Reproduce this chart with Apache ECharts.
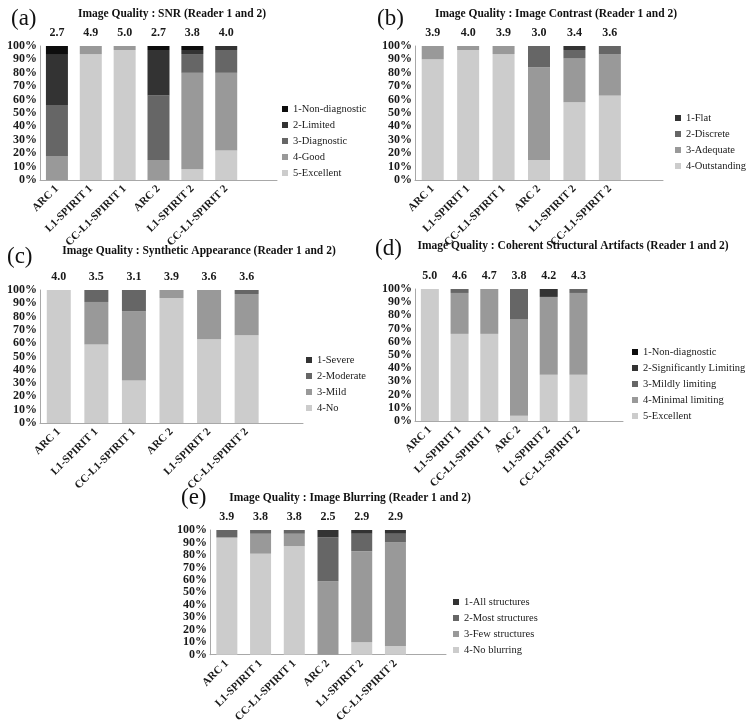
<!DOCTYPE html>
<html><head><meta charset="utf-8">
<script src="https://cdn.jsdelivr.net/npm/echarts@6/dist/echarts.min.js"></script>
<style>html,body{margin:0;padding:0;background:#fff}#c{width:750px;height:725px}</style>
</head><body><div id="c"></div>
<script>
// ---- data ----
const categories = ['ARC 1','L1-SPIRIT 1','CC-L1-SPIRIT 1','ARC 2','L1-SPIRIT 2','CC-L1-SPIRIT 2',''];

// (a) SNR
const snrNames = ['1-Non-diagnostic','2-Limited','3-Diagnostic','4-Good','5-Excellent'];
const snrMeans = ['2.7','4.9','5.0','2.7','3.8','4.0'];
const snr1 = [6,0,0,3,3,0];
const snr2 = [38,0,0,34,3,3];
const snr3 = [38,0,0,48,14,17];
const snr4 = [18,6,3,15,72,58];
const snr5 = [0,94,97,0,8,22];

// (b) Image Contrast
const conNames = ['1-Flat','2-Discrete','3-Adequate','4-Outstanding'];
const conMeans = ['3.9','4.0','3.9','3.0','3.4','3.6'];
const con1 = [0,0,0,0,3,0];
const con2 = [0,0,0,16,6,6];
const con3 = [10,3,6,69,33,31];
const con4 = [90,97,94,15,58,63];

// (c) Synthetic Appearance
const synNames = ['1-Severe','2-Moderate','3-Mild','4-No'];
const synMeans = ['4.0','3.5','3.1','3.9','3.6','3.6'];
const syn1 = [0,0,0,0,0,0];
const syn2 = [0,9,16,0,0,3];
const syn3 = [0,32,52,6,37,31];
const syn4 = [100,59,32,94,63,66];

// (d) Coherent Structural Artifacts
const artNames = ['1-Non-diagnostic','2-Significantly Limiting','3-Mildly limiting','4-Minimal limiting','5-Excellent'];
const artMeans = ['5.0','4.6','4.7','3.8','4.2','4.3'];
const art1 = [0,0,0,0,0,0];
const art2 = [0,0,0,0,6,0];
const art3 = [0,3,0,23,0,3];
const art4 = [0,31,34,73,59,62];
const art5 = [100,66,66,4,35,35];

// (e) Image Blurring
const blurNames = ['1-All structures','2-Most structures','3-Few structures','4-No blurring'];
const blurMeans = ['3.9','3.8','3.8','2.5','2.9','2.9'];
const blur1 = [0,0,0,6,3,3];
const blur2 = [6,3,3,35,14,7];
const blur3 = [0,16,10,59,73,83];
const blur4 = [94,81,87,0,10,7];

// ---- layout / styling ----
const FONT = '"Liberation Serif", "Times New Roman", serif';
const col5 = ['#0d0d0d','#333333','#666666','#999999','#cccccc'];
const col4 = ['#333333','#666666','#999999','#cccccc'];

const panels = [
  {letter:'(a)', title:'Image Quality : SNR (Reader 1 and 2)', names:snrNames, means:snrMeans,
   values:[snr1,snr2,snr3,snr4,snr5], colors:col5,
   grid:{left:40,top:46,width:237,height:134}, barWidth:22,
   titleX:172, titleY:13, letterX:11, letterY:7, legendX:282, legendY:102},
  {letter:'(b)', title:'Image Quality : Image Contrast (Reader 1 and 2)', names:conNames, means:conMeans,
   values:[con1,con2,con3,con4], colors:col4,
   grid:{left:415,top:46,width:248,height:134}, barWidth:22,
   titleX:556, titleY:13, letterX:377, letterY:7, legendX:675, legendY:111},
  {letter:'(c)', title:'Image Quality : Synthetic Appearance (Reader 1 and 2)', names:synNames, means:synMeans,
   values:[syn1,syn2,syn3,syn4], colors:col4,
   grid:{left:40,top:290,width:263,height:133}, barWidth:24,
   titleX:199, titleY:250, letterX:7, letterY:245, legendX:306, legendY:353},
  {letter:'(d)', title:'Image Quality : Coherent Structural Artifacts (Reader 1 and 2)', names:artNames, means:artMeans,
   values:[art1,art2,art3,art4,art5], colors:col5,
   grid:{left:415,top:289,width:208,height:132}, barWidth:18,
   titleX:573, titleY:245, letterX:375, letterY:237, legendX:632, legendY:345},
  {letter:'(e)', title:'Image Quality : Image Blurring (Reader 1 and 2)', names:blurNames, means:blurMeans,
   values:[blur1,blur2,blur3,blur4], colors:col4,
   grid:{left:210,top:530,width:236,height:133}, barWidth:21,
   titleX:350, titleY:497, letterX:181, letterY:486, legendX:453, legendY:595}
];

const option = {animation:false, backgroundColor:'#ffffff',
  title:[], grid:[], xAxis:[], yAxis:[], legend:[], series:[]};

panels.forEach((p, i) => {
  option.title.push({text:p.title, left:p.titleX, top:p.titleY - 5, textAlign:'center', padding:0,
    textStyle:{fontFamily:FONT, fontWeight:'bold', fontSize:11.5, color:'#111'}});
  option.title.push({text:p.letter, left:p.letterX, top:p.letterY, padding:0,
    textStyle:{fontFamily:FONT, fontWeight:'normal', fontSize:23, color:'#111'}});
  option.grid.push(Object.assign({containLabel:false}, p.grid));
  option.xAxis.push({type:'category', gridIndex:i, data:categories,
    axisLine:{show:true, lineStyle:{color:'#a8a8a8', width:1}}, axisTick:{show:false},
    axisLabel:{interval:0, rotate:45, margin:7, fontFamily:FONT, fontWeight:'bold', fontSize:11, color:'#1a1a1a'}});
  option.xAxis.push({type:'category', gridIndex:i, position:'top', data:p.means.concat(['']),
    axisLine:{show:false}, axisTick:{show:false},
    axisLabel:{interval:0, margin:7, fontFamily:FONT, fontWeight:'bold', fontSize:12, color:'#1a1a1a'}});
  option.yAxis.push({type:'value', gridIndex:i, min:0, max:100, interval:10,
    axisLine:{show:true, lineStyle:{color:'#a8a8a8', width:1}}, axisTick:{show:false}, splitLine:{show:false},
    axisLabel:{formatter:'{value}%', margin:3, showMinLabel:true, showMaxLabel:true, hideOverlap:false,
      fontFamily:FONT, fontWeight:'bold', fontSize:12, color:'#1a1a1a'}});
  option.legend.push({orient:'vertical', left:p.legendX, top:p.legendY, padding:0,
    itemWidth:6, itemHeight:6, itemGap:2, icon:'rect', selectedMode:false, data:p.names,
    textStyle:{fontFamily:FONT, fontSize:10.5, color:'#1a1a1a', lineHeight:14}});
  for (let k = p.names.length - 1; k >= 0; k--) {
    option.series.push({type:'bar', name:p.names[k], xAxisIndex:2*i, yAxisIndex:i,
      stack:'panel'+i, data:p.values[k], barWidth:p.barWidth,
      itemStyle:{color:p.colors[k]}});
  }
});

const chart = echarts.init(document.getElementById('c'), null, {renderer:'canvas'});
chart.setOption(option);
</script>
</body></html>
